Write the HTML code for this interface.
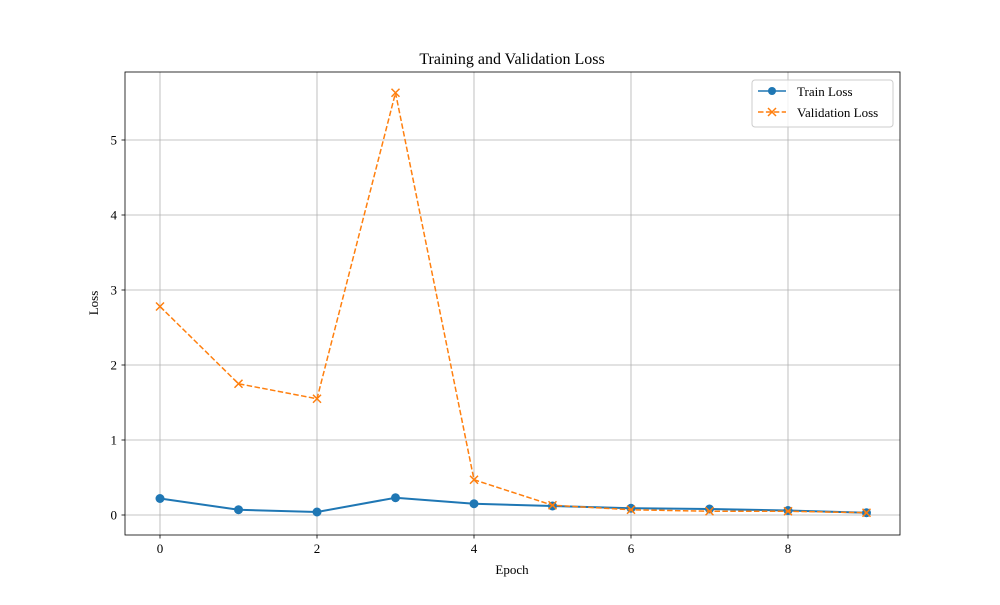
<!DOCTYPE html>
<html><head><meta charset="utf-8">
<style>
body{margin:0;background:#fff;}
svg text{font-family:"Liberation Serif",serif;fill:#000;}
</style></head>
<body>
<svg id="chart" width="1000" height="600" viewBox="0 0 1000 600">
<rect width="1000" height="600" fill="#fff"/>
<g id="grid"></g>
<g id="ticks"></g>
<g id="series"></g>
<rect x="125" y="72" width="775" height="463" fill="none" stroke="#000" stroke-width="0.8"/>
<text x="512" y="64" text-anchor="middle" font-size="16">Training and Validation Loss</text>
<text x="512" y="574" text-anchor="middle" font-size="13">Epoch</text>
<text x="98" y="303" text-anchor="middle" font-size="13" transform="rotate(-90 98 303)">Loss</text>
<g>
<rect x="752" y="80" width="141" height="47" rx="3" fill="#fff" fill-opacity="0.8" stroke="#ccc"/>
<g>
<line x1="758" y1="91" x2="786" y2="91" stroke="#1f77b4" stroke-width="1.5"/>
<circle cx="772" cy="91" r="4" fill="#1f77b4"/>
<text x="797" y="96" font-size="13">Train Loss</text></g>
<g>
<line x1="758" y1="112" x2="786" y2="112" stroke="#ff7f0e" stroke-width="1.5" stroke-dasharray="5.5,2.4"/>
<path d="M768,108 l8,8 M776,108 l-8,8" stroke="#ff7f0e" stroke-width="1.5"/>
<text x="797" y="117" font-size="13">Validation Loss</text></g>
</g>
</svg>
<script>
const epochs=[0,1,2,3,4,5,6,7,8,9];
const trainLoss=[0.22,0.07,0.04,0.23,0.15,0.12,0.09,0.08,0.06,0.03];
const valLoss=[2.78,1.75,1.55,5.63,0.47,0.13,0.07,0.05,0.05,0.03];
const xTicks=[0,2,4,6,8];
const yTicks=[0,1,2,3,4,5];
const NS="http://www.w3.org/2000/svg";
const xs=v=>160+v*78.5;
const ys=v=>515-v*75;
function mk(tag,attrs,parent){const e=document.createElementNS(NS,tag);for(const k in attrs)e.setAttribute(k,attrs[k]);parent.appendChild(e);return e;}
const grid=document.getElementById('grid'),ticks=document.getElementById('ticks'),series=document.getElementById('series');
xTicks.forEach(t=>{const x=xs(t);
const g=mk('line',{x1:x,x2:x,y1:72,y2:535,stroke:'#b0b0b0','stroke-width':0.8},grid);


mk('line',{x1:x,x2:x,y1:535,y2:538.5,stroke:'#000','stroke-width':0.8},ticks);
const tx=mk('text',{x:x,y:553,'text-anchor':'middle','font-size':13},ticks);tx.textContent=t;

});
yTicks.forEach(t=>{const y=ys(t);
const g=mk('line',{x1:125,x2:900,y1:y,y2:y,stroke:'#b0b0b0','stroke-width':0.8},grid);


mk('line',{x1:121.5,x2:125,y1:y,y2:y,stroke:'#000','stroke-width':0.8},ticks);
const tx=mk('text',{x:117,y:y+4.5,'text-anchor':'end','font-size':13},ticks);tx.textContent=t;

});
const tp=mk('polyline',{points:epochs.map((e,i)=>xs(e)+','+ys(trainLoss[i])).join(' '),fill:'none',stroke:'#1f77b4','stroke-width':2},series);


epochs.forEach((e,i)=>{const c=mk('circle',{cx:xs(e),cy:ys(trainLoss[i]),r:4.5,fill:'#1f77b4'},series);

});
const vp=mk('polyline',{points:epochs.map((e,i)=>xs(e)+','+ys(valLoss[i])).join(' '),fill:'none',stroke:'#ff7f0e','stroke-width':1.5,'stroke-dasharray':'5.5,2.4'},series);


epochs.forEach((e,i)=>{const x=xs(e),y=ys(valLoss[i]);
const p=mk('path',{d:`M${x-4},${y-4} l8,8 M${x+4},${y-4} l-8,8`,stroke:'#ff7f0e','stroke-width':1.5},series);

});
</script>
</body></html>
